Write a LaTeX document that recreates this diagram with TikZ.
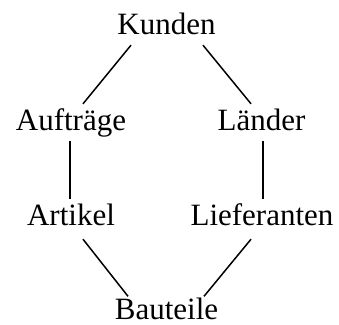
\documentclass[tikz,border=0pt]{standalone}
\usepackage{fontspec}
\setmainfont{Liberation Serif}
\usetikzlibrary{positioning}

\tikzset{
  entity/.style = {anchor = base, font = \fontsize{31}{36}\selectfont,
    text height = 22pt, text depth = 7pt, inner sep = 4pt},
  link/.style = {line width = 1.5pt}
}

\begin{document}
\begin{tikzpicture}[x = 1pt, y = -1pt]
\useasboundingbox (0, 0) rectangle (339, 324);
% entities
\node[entity] (kunden) at (166.5, 34) {Kunden};
\node[entity] (auftraege) at (71, 130) {Aufträge};
\node[entity] (laender) at (261.5, 130) {Länder};
\node[entity] (artikel) at (71, 225) {Artikel};
\node[entity] (lieferanten) at (262, 225) {Lieferanten};
\node[entity, text depth = 0pt] (bauteile) at (166.5, 319.5) {Bauteile};
% relationships
\draw[link] ([xshift = -35.5pt]kunden.south) -- ([xshift = 12pt]auftraege.north);
\draw[link] ([xshift = 36.5pt]kunden.south) -- ([xshift = -10.5pt]laender.north);
\draw[link] ([xshift = -1pt]auftraege.south) -- ([xshift = -1pt]artikel.north);
\draw[link] ([xshift = 1.5pt]laender.south) -- ([xshift = 1pt]lieferanten.north);
\draw[link] ([xshift = 12pt, yshift = -3pt]artikel.south) -- ([xshift = -38.5pt, yshift = -3pt]bauteile.north);
\draw[link] ([xshift = -11pt, yshift = -3pt]lieferanten.south) -- ([xshift = 37.5pt, yshift = -3pt]bauteile.north);
\end{tikzpicture}
\end{document}
